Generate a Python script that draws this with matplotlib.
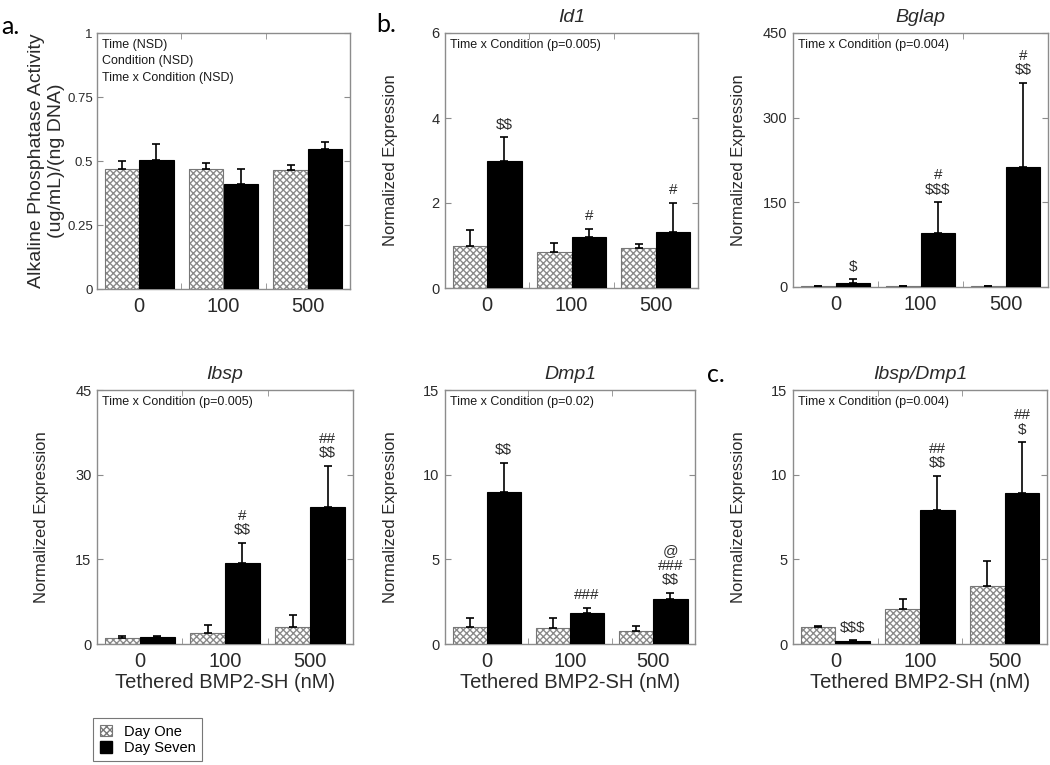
import matplotlib
matplotlib.use("Agg")
import matplotlib.pyplot as plt
from matplotlib.patches import Patch
import numpy as np

plt.rcParams['font.family'] = ['Liberation Sans', 'DejaVu Sans']
plt.rcParams['hatch.linewidth'] = 1.0

# ---------------- data ----------------
groups = ["0", "100", "500"]

alp_day1 = [0.47, 0.47, 0.465]
alp_day1_err = [0.03, 0.022, 0.02]
alp_day7 = [0.505, 0.41, 0.545]
alp_day7_err = [0.06, 0.06, 0.03]

id1_day1 = [1.0, 0.85, 0.94]
id1_day1_err = [0.37, 0.22, 0.10]
id1_day7 = [2.98, 1.19, 1.32]
id1_day7_err = [0.57, 0.21, 0.68]

bglap_day1 = [1.0, 1.0, 1.0]
bglap_day1_err = [0.3, 0.3, 0.3]
bglap_day7 = [7.0, 95.0, 212.0]
bglap_day7_err = [7.0, 55.0, 150.0]

ibsp_day1 = [1.1, 1.9, 3.0]
ibsp_day1_err = [0.4, 1.4, 2.1]
ibsp_day7 = [1.3, 14.4, 24.3]
ibsp_day7_err = [0.2, 3.5, 7.3]

dmp1_day1 = [1.01, 0.97, 0.78]
dmp1_day1_err = [0.55, 0.55, 0.29]
dmp1_day7 = [8.97, 1.81, 2.67]
dmp1_day7_err = [1.73, 0.33, 0.35]

ratio_day1 = [1.01, 2.05, 3.41]
ratio_day1_err = [0.03, 0.62, 1.52]
ratio_day7 = [0.18, 7.9, 8.93]
ratio_day7_err = [0.05, 2.04, 2.97]

id1_marks = ["$$", "#", "#"]
bglap_marks = ["$", "#\n$$$", "#\n$$"]
ibsp_marks = ["", "#\n$$", "##\n$$"]
dmp1_marks = ["$$", "###", "@\n###\n$$"]
ratio_marks = ["$$$", "##\n$$", "##\n$"]

FRAME = "#8c8c8c"
TXT = "#2a2a2a"

W, H = 1050, 765
fig = plt.figure(figsize=(W / 100, H / 100), dpi=100)


def box(l, r, t, b):
    return [l / W, 1 - b / H, (r - l) / W, (b - t) / H]


def panel(rect, d1, e1, d7, e7, ymax, yticks, yticklabels, title=None,
          note=None, marks=None, xlabel=False, ylabel="Normalized Expression",
          ylabel_size=12, ylabel_px=47):
    ax = fig.add_axes(rect)
    x = np.arange(len(groups))
    w = 0.41
    ax.bar(x - w / 2, d1, w, color="white", edgecolor="#8a8a8a", hatch="xxxxx",
           linewidth=0, zorder=2)
    ax.bar(x - w / 2, d1, w, color="none", edgecolor="#777777", linewidth=0.8,
           zorder=3)
    ax.errorbar(x - w / 2, d1, yerr=[np.zeros(3), e1], fmt="none", ecolor="black",
                elinewidth=1.2, capsize=2.8, capthick=1.2, zorder=4)
    ax.bar(x + w / 2, d7, w, color="black", edgecolor="black", linewidth=0.8,
           zorder=3)
    ax.errorbar(x + w / 2, d7, yerr=[np.zeros(3), e7], fmt="none", ecolor="black",
                elinewidth=1.2, capsize=2.8, capthick=1.2, zorder=4)
    ax.set_xlim(-0.5, 2.5)
    ax.set_ylim(0, ymax)
    ax.set_yticks(yticks)
    ax.set_yticklabels(yticklabels)
    ax.set_xticks(x)
    ax.set_xticklabels(groups)
    ax.set_xticks([0.5, 1.5], minor=True)
    ax.tick_params(axis="x", which="major", length=0, labelsize=14.5,
                   labelcolor=TXT, pad=6)
    ax.tick_params(axis="x", which="minor", direction="in", length=4,
                   color=FRAME, top=True, bottom=True)
    ax.tick_params(axis="y", which="major", direction="in", length=4,
                   color=FRAME, left=True, right=True, labelsize=10.5,
                   labelcolor=TXT, pad=4)
    for s in ax.spines.values():
        s.set_color(FRAME)
        s.set_linewidth(1.0)
    if title:
        ax.set_title(title, fontstyle="italic", fontsize=14, color=TXT, pad=8)
    if note:
        ax.text(0.02, 0.975, note, transform=ax.transAxes, ha="left", va="top",
                fontsize=9, color="#1a1a1a", linespacing=1.45, parse_math=False)
    if ylabel:
        ax.set_ylabel(ylabel, fontsize=ylabel_size, color=TXT)
        width_px = rect[2] * W
        ax.yaxis.set_label_coords(-ylabel_px / width_px, 0.5)
    if xlabel:
        ax.set_xlabel("Tethered BMP2-SH (nM)", fontsize=14.5, color=TXT,
                      labelpad=1)
    if marks:
        for i, m in enumerate(marks):
            if not m:
                continue
            ax.annotate(m, (x[i] + w / 2, d7[i] + e7[i]),
                        xytext=(0, 4), textcoords="offset points",
                        ha="center", va="bottom", fontsize=11,
                        color=TXT, linespacing=1.05, parse_math=False)
    return ax


ax_a = panel(box(97, 350, 33, 289), alp_day1, alp_day1_err, alp_day7,
             alp_day7_err, 1.0, [0, 0.25, 0.5, 0.75, 1.0],
             ["0", "0.25", "0.5", "0.75", "1"],
             note="Time (NSD)\nCondition (NSD)\nTime x Condition (NSD)",
             ylabel="Alkaline Phosphatase Activity\n(ug/mL)/(ng DNA)",
             ylabel_size=14, ylabel_px=32)
ax_a.tick_params(axis="y", labelsize=9.5, pad=3)

panel(box(445, 698, 33, 288), id1_day1, id1_day1_err, id1_day7, id1_day7_err,
      6, [0, 2, 4, 6], ["0", "2", "4", "6"], title="Id1",
      note="Time x Condition (p=0.005)", marks=id1_marks)

panel(box(793, 1048, 33, 287), bglap_day1, bglap_day1_err, bglap_day7,
      bglap_day7_err, 450, [0, 150, 300, 450], ["0", "150", "300", "450"],
      title="Bglap", note="Time x Condition (p=0.004)", marks=bglap_marks)

panel(box(97, 353, 390, 644), ibsp_day1, ibsp_day1_err, ibsp_day7,
      ibsp_day7_err, 45, [0, 15, 30, 45], ["0", "15", "30", "45"],
      title="Ibsp", note="Time x Condition (p=0.005)", marks=ibsp_marks,
      xlabel=True, ylabel_px=48)

panel(box(445, 695, 390, 644), dmp1_day1, dmp1_day1_err, dmp1_day7,
      dmp1_day7_err, 15, [0, 5, 10, 15], ["0", "5", "10", "15"],
      title="Dmp1", note="Time x Condition (p=0.02)", marks=dmp1_marks,
      xlabel=True)

panel(box(793, 1047, 390, 644), ratio_day1, ratio_day1_err, ratio_day7,
      ratio_day7_err, 15, [0, 5, 10, 15], ["0", "5", "10", "15"],
      title="Ibsp/Dmp1", note="Time x Condition (p=0.004)", marks=ratio_marks,
      xlabel=True)

for lab, px, py in [("a.", 1, 27), ("b.", 376, 25), ("c.", 707, 374)]:
    fig.text(px / W, 1 - py / H, lab, fontsize=18, family=["Lato", "DejaVu Sans"],
             ha="left", va="center", color="black")

handles = [Patch(facecolor="white", edgecolor="#777777", hatch="xxxxx",
                 linewidth=0.8),
           Patch(facecolor="black", edgecolor="black")]
leg = fig.legend(handles, ["Day One", "Day Seven"], loc="upper left",
                 bbox_to_anchor=(93 / W, 1 - 718 / H), fontsize=10.5,
                 frameon=True, fancybox=False, handlelength=0.85,
                 handleheight=0.85, handletextpad=0.8, borderpad=0.45,
                 labelspacing=0.15, borderaxespad=0)
leg.get_frame().set_edgecolor("#555555")
leg.get_frame().set_linewidth(0.8)

fig.savefig("out.png", dpi=100)
